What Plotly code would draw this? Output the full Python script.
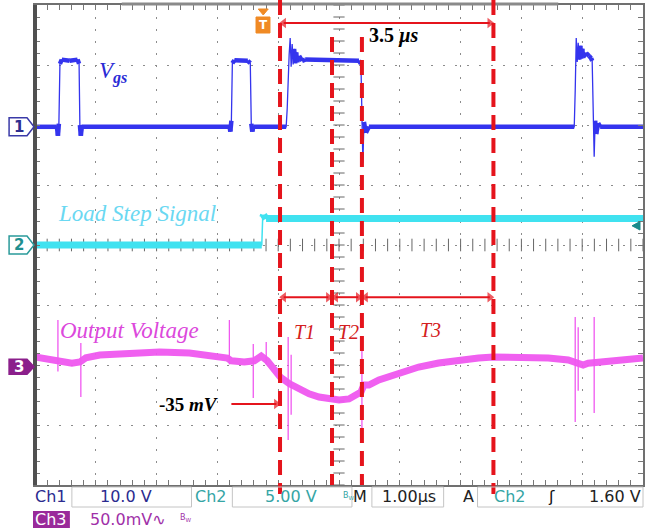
import plotly.graph_objects as go

# ---------------- scope settings ----------------
ch_scale = {"ch1": 10.0, "ch2": 5.0, "ch3": 50.0}     # V/div, V/div, mV/div
ch_offset = {"ch1": 1.97, "ch2": 0.0, "ch3": -2.03}   # divisions
trigger_time = 3.75      # us
trigger_level = 1.60     # V on Ch2

# ---------------- Ch1 : Vgs (V) ----------------
vgs_t = [0, 0.36, 0.377, 0.393, 0.41, 0.44, 0.57, 0.70, 0.725, 0.738, 0.754, 0.77,
         3.20, 3.213, 3.23, 3.246, 3.28, 3.50, 3.541, 3.557, 3.574, 3.59,
         4.131, 4.148, 4.18, 4.197, 4.213, 4.23, 4.246, 4.262, 4.279, 4.295, 4.311,
         4.344, 4.393, 4.443, 5.328, 5.361, 5.377, 5.393, 5.41, 5.443, 5.492,
         8.869, 8.885, 8.902, 8.918, 8.934, 8.951, 8.967, 8.984, 9.0, 9.016, 9.066,
         9.115, 9.148, 9.164, 9.18, 9.197, 9.213, 9.23, 9.262, 9.295, 10.0]
vgs_v = [0, 0, -1.5, 0.5, 10.5, 11.2, 11.0, 11.2, 10.5, 0.3, -1.5, 0,
         0, -0.8, 1.0, 10.6, 11.1, 11.0, 10.6, 0.5, -0.8, 0,
         0, 3.0, 12.0, 14.8, 10.0, 13.8, 10.4, 13.0, 10.6, 12.4, 10.8,
         11.8, 11.0, 11.2, 11.0, 10.5, 2.0, -6.0, 0.8, -1.0, 0,
         0, 6.0, 14.8, 10.8, 14.0, 11.2, 13.5, 11.4, 13.0, 11.6, 12.3,
         11.8, 11.4, 11.0, 2.0, -5.0, 1.0, -1.2, 0.6, 0, 0]

# ---------------- Ch2 : load step signal (V) ----------------
step_t = [0, 3.73, 3.745, 3.76, 3.80, 10.0]
step_v = [0, 0, 2.3, 2.5, 2.2, 2.2]

# ---------------- Ch3 : output voltage (mV, AC) ----------------
vout_t = [0, 0.246, 0.36, 0.443, 0.607, 0.738, 0.836, 1.066, 1.557, 2.049, 2.541,
          2.869, 3.164, 3.23, 3.443, 3.607, 3.721, 3.82, 3.934, 4.033, 4.18, 4.344,
          4.508, 4.672, 4.885, 5.0, 5.164, 5.295, 5.361, 5.41, 5.492, 5.656, 5.984,
          6.311, 6.639, 6.967, 7.295, 7.541, 7.951, 8.443, 8.77, 8.885, 9.016, 9.098,
          9.262, 9.59, 10.0]
vout_mv = [8.2, 5.7, 5.0, 3.5, 3.0, 4.0, 7.5, 9.8, 11.5, 12.3, 11.5,
           9.8, 7.3, 5.0, 4.0, 5.0, 9.0, 5.0, -2.0, -8.5, -14.0, -19.0,
           -22.5, -25.2, -27.5, -27.7, -26.8, -23.5, -21.0, -15.2, -15.2, -11.0, -5.2,
           -0.2, 3.2, 5.7, 7.3, 8.2, 8.2, 7.3, 5.7, 4.0, 1.5, 3.0,
           4.0, 5.7, 7.3]
spike_t = [0.377, 0.754, 3.197, 3.59, 3.803, 4.164, 4.213, 5.377, 8.885, 8.934, 9.197]
spike_hi = [39, 19.8, 39, 19, 20.7, 24.8, 10, 18.2, 41.5, 33, 41.5]
spike_lo = [-4, -25.2, 2, -26, 2, -61, -40, -55.2, -46, -20, -38.5]

# ---------------- cursors / annotations ----------------
cursor_t = [4.03, 4.885, 5.377, 7.54]
drop_label = "-35"

# ---------------- colours ----------------
C1 = "#3434ee"
C2 = "#40e2f0"
C3 = "#f058f0"
RED = "#e5141c"


def to_div(vals, ch):
    return [ch_offset[ch] + v / ch_scale[ch] for v in vals]


def PX(x):  # pixel -> paper x
    return (x - 35) / 610.0


def PY(y):  # pixel -> paper y
    return (485 - y) / 480.0


def split_thick(t, d, thr=0.25):
    xs, ys = [], []
    for i in range(len(t) - 1):
        if abs(d[i + 1] - d[i]) < thr:
            xs += [t[i], t[i + 1], None]
            ys += [d[i], d[i + 1], None]
    return xs, ys


fig = go.Figure()

# centre cross-hair ticks
ct = [i * 0.2 for i in range(51)]
fig.add_trace(go.Scatter(x=ct, y=[0] * len(ct), mode="markers", hoverinfo="skip",
                         marker=dict(symbol="line-ns", size=9,
                                     line=dict(width=1, color="#666"))))
cy = [-4 + i * 0.2 for i in range(41)]
fig.add_trace(go.Scatter(x=[5] * len(cy), y=cy, mode="markers", hoverinfo="skip",
                         marker=dict(symbol="line-ew", size=8,
                                     line=dict(width=1, color="#666"))))

# Ch2
d2 = to_div(step_v, "ch2")
fig.add_trace(go.Scatter(x=step_t, y=d2, mode="lines", line=dict(color=C2, width=1.5)))
xs, ys = split_thick(step_t, d2)
fig.add_trace(go.Scatter(x=xs, y=ys, mode="lines", line=dict(color=C2, width=7)))

# Ch3
d3 = to_div(vout_mv, "ch3")
fig.add_trace(go.Scatter(x=vout_t, y=d3, mode="lines",
                         line=dict(color=C3, width=7), opacity=0.95))
sx, sy = [], []
hi_d = to_div(spike_hi, "ch3")
lo_d = to_div(spike_lo, "ch3")
for t, hi, lo in zip(spike_t, hi_d, lo_d):
    sx += [t, t, None]
    sy += [hi, lo, None]
fig.add_trace(go.Scatter(x=sx, y=sy, mode="lines", line=dict(color=C3, width=1.3)))

# Ch1
d1 = to_div(vgs_v, "ch1")
fig.add_trace(go.Scatter(x=vgs_t, y=d1, mode="lines", line=dict(color=C1, width=1.3)))
xs, ys = split_thick(vgs_t, d1)
fig.add_trace(go.Scatter(x=xs, y=ys, mode="lines", line=dict(color=C1, width=4.5)))


# red measurement arrows (line + triangle heads)
def add_arrow(t0, t1, y, both=True):
    fig.add_trace(go.Scatter(
        x=[t0, t1], y=[y, y], mode="lines+markers", hoverinfo="skip", cliponaxis=False,
        line=dict(color=RED, width=2),
        marker=dict(symbol=["triangle-left", "triangle-right"], color=RED,
                    size=[9 if both else 0, 9], line=dict(width=0))))


add_arrow(cursor_t[0] + 0.06, cursor_t[3] - 0.06, 3.7)
add_arrow(cursor_t[0] + 0.06, cursor_t[1] - 0.06, -0.87)
add_arrow(cursor_t[1] + 0.06, cursor_t[2] - 0.06, -0.87)
add_arrow(cursor_t[2] + 0.06, cursor_t[3] - 0.06, -0.87)
add_arrow(3.23, cursor_t[0] - 0.06, -2.65, both=False)

shapes = []
annotations = []

# heavy left frame + record bar
shapes.append(dict(type="line", xref="paper", yref="paper", x0=0, x1=0, y0=0, y1=1,
                   line=dict(color="#505050", width=4)))
shapes.append(dict(type="line", xref="paper", yref="paper", x0=PX(122), x1=PX(560),
                   y0=PY(4), y1=PY(4), line=dict(color="#8a8a8a", width=3)))

# red dashed cursors
for i, t in enumerate(cursor_t):
    long = i in (0, 3)
    shapes.append(dict(type="line", xref="paper", yref="paper",
                       x0=t / 10.0, x1=t / 10.0,
                       y0=PY(0) if long else PY(37), y1=PY(494) if long else PY(485),
                       line=dict(color=RED, width=4, dash="15px,8px")))


def note(x, y, text, size, color, family="DejaVu Sans", xref="paper", yref="paper",
         xanchor="center"):
    return dict(xref=xref, yref=yref, x=x, y=y, text=text, showarrow=False,
                xanchor=xanchor, yanchor="middle",
                font=dict(family=family, size=size, color=color))


# channel ground markers
def marker_path(x0, x1, xt, yc, h):
    return (f"M {PX(x0)},{yc + h} L {PX(x1)},{yc + h} L {PX(xt)},{yc} "
            f"L {PX(x1)},{yc - h} L {PX(x0)},{yc - h} Z")


for ch, lc, fc, tc, h in [("ch1", "#3a3aa8", "white", "#2e2e90", 0.15),
                          ("ch2", "#2a9a9a", "white", "#1f8f8f", 0.15),
                          ("ch3", "#8b1f8b", "#8b1f8b", "white", 0.125)]:
    shapes.append(dict(type="path", xref="paper", yref="y",
                       path=marker_path(9, 27, 34, ch_offset[ch], h),
                       line=dict(color=lc, width=1.5), fillcolor=fc))
    annotations.append(note(PX(19), ch_offset[ch], "<b>" + ch[-1] + "</b>", 15, tc,
                            yref="y"))

# trigger position marker (T)
tp = trigger_time / 10.0
shapes.append(dict(type="path", xref="paper", yref="paper",
                   path=f"M {PX(259)},{PY(9)} L {PX(269)},{PY(9)} L {PX(264)},{PY(15)} Z",
                   line=dict(color="#f08a24", width=1), fillcolor="#f08a24"))
shapes.append(dict(type="rect", xref="paper", yref="paper",
                   x0=tp - 7 / 610, x1=tp + 7 / 610, y0=PY(33), y1=PY(17),
                   line=dict(color="#f08a24", width=1), fillcolor="#f08a24"))
annotations.append(note(tp, PY(25), "<b>T</b>", 12, "white"))

# trigger level marker (right)
lvl = ch_offset["ch2"] + trigger_level / ch_scale["ch2"]
shapes.append(dict(type="path", xref="paper", yref="y",
                   path=f"M {PX(634)},{lvl} L {PX(642)},{lvl + 0.07} L {PX(642)},{lvl - 0.07} Z",
                   line=dict(color="#1a8a8a", width=1), fillcolor="#1a8a8a"))

serif = "Liberation Serif"
annotations += [
    note(5.9, 3.5, "<b>3.5 <i>µs</i></b>", 20, "black", serif, "x", "y"),
    note(4.44, -1.45, "<i>T1</i>", 20, "#d42020", serif, "x", "y"),
    note(5.15, -1.45, "<i>T2</i>", 20, "#d42020", serif, "x", "y"),
    note(6.51, -1.42, "<i>T3</i>", 20, "#d42020", serif, "x", "y"),
    note(2.52, -2.65, "<b>" + drop_label + " <i>mV</i></b>", 19, "black", serif, "x", "y"),
    note(1.28, 2.88, "<i>V</i><sub><b><i>gs</i></b></sub>", 23, "#2b2bd6", serif, "x", "y"),
    note(1.68, 0.53, "<i>Load Step Signal</i>", 23, "#6ad8f2", serif, "x", "y"),
    note(1.55, -1.42, "<i>Output Voltage</i>", 23, "#dc48dc", serif, "x", "y"),
]

# bottom status bar
for x0, x1 in [(72, 192), (233, 353), (373, 445), (479, 645)]:
    shapes.append(dict(type="rect", xref="paper", yref="paper", x0=PX(x0), x1=PX(x1),
                       y0=PY(507), y1=PY(487), line=dict(color="#c4c4c4", width=1)))
shapes.append(dict(type="rect", xref="paper", yref="paper", x0=PX(33), x1=PX(70),
                   y0=PY(528), y1=PY(511), line=dict(width=0), fillcolor="#9a2a9a"))

for x, y, txt, col, anc in [
    (51, 497, "Ch1", "#2b2b8f", "center"),
    (126, 497, "10.0 V", "#2b2b8f", "center"),
    (212, 497, "Ch2", "#35a5a5", "center"),
    (292, 497, "5.00 V", "#35a5a5", "center"),
    (361, 497, "M", "#222222", "center"),
    (410, 497, "1.00µs", "#222222", "center"),
    (470, 497, "A", "#222222", "center"),
    (512, 497, "Ch2", "#35a5a5", "center"),
    (553, 497, "ʃ", "#111111", "center"),
    (645, 497, "1.60 V", "#222222", "right"),
    (51, 519, "Ch3", "white", "center"),
    (88, 519, "50.0mV∿", "#a030a8", "left"),
]:
    annotations.append(note(PX(x), PY(y), txt, 16, col, xanchor=anc))
for x, y, col in [(350, 496, "#35a5a5"), (186, 518, "#a030a8")]:
    annotations.append(note(PX(x), PY(y), "B<sub>W</sub>", 8, col))

axis_common = dict(showgrid=True, gridcolor="#8c8c8c", gridwidth=1, griddash="2px,10px",
                   zeroline=False, showticklabels=False, showline=True, linecolor="#707070",
                   linewidth=2, mirror="ticks", ticks="inside", ticklen=5, tickcolor="#777",
                   dtick=1, tick0=0, fixedrange=True,
                   minor=dict(ticks="inside", dtick=0.2, tick0=0, ticklen=5,
                              tickcolor="#777", showgrid=False))

fig.update_layout(
    width=647, height=529, autosize=False,
    margin=dict(l=35, r=2, t=5, b=44, pad=0),
    paper_bgcolor="white", plot_bgcolor="white",
    showlegend=False,
    xaxis=dict(range=[0, 10], **axis_common),
    yaxis=dict(range=[-4, 4], **axis_common),
    shapes=shapes, annotations=annotations,
)

fig.write_html("out.html", config={"displayModeBar": False},
               post_script="document.body.style.margin='0';document.body.style.overflow='hidden';")
